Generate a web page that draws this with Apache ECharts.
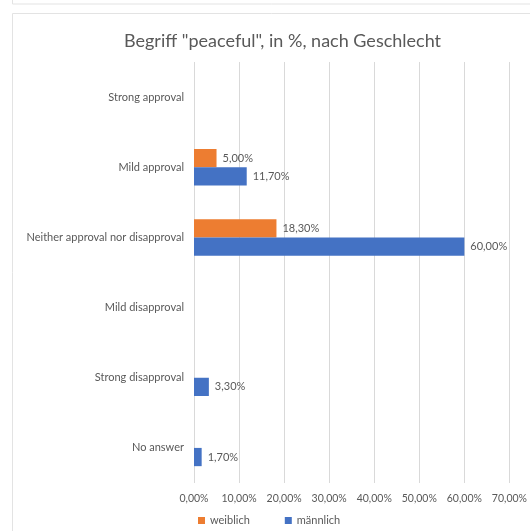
<!DOCTYPE html>
<html><head><meta charset="utf-8">
<script src="https://cdn.jsdelivr.net/npm/echarts@6/dist/echarts.min.js"></script>
<style>html,body{margin:0;padding:0;background:#fff}#c{width:530px;height:531px}</style>
</head><body><div id="c"></div>
<script>
const categories = ["Strong approval","Mild approval","Neither approval nor disapproval","Mild disapproval","Strong disapproval","No answer"];
const weiblich = [null, 5.0, 18.3, null, null, null];
const maennlich = [null, 11.7, 60.0, null, 3.3, 1.7];
const xTicks = [0,10,20,30,40,50,60,70];
const titleText = 'Begriff "peaceful", in %, nach Geschlecht';
const seriesNames = ["weiblich","männlich"];

const fmt = v => v.toFixed(2).replace('.', ',') + '%';
const font = 'Lato, "Open Sans", sans-serif';
const txt = '#595959';
const chart = echarts.init(document.getElementById('c'));
chart.setOption({
  animation:false,
  textStyle:{fontFamily:font},
  title:{text:titleText,left:119,top:27,textStyle:{fontFamily:font,fontSize:18,fontWeight:'normal',color:txt}},
  graphic:[
    {type:'rect',shape:{x:12.5,y:-10,width:540,height:14},style:{fill:'none',stroke:'#e3e3e3',lineWidth:1}},
    {type:'rect',shape:{x:12.5,y:13.5,width:540,height:540},style:{fill:'none',stroke:'#e3e3e3',lineWidth:1}}
  ],
  legend:{data:seriesNames,bottom:0,left:193,itemWidth:7,itemHeight:7,itemGap:35,icon:'rect',textStyle:{fontFamily:font,fontSize:11,color:txt}},
  grid:{left:194,right:20,top:62,bottom:48,containLabel:false},
  xAxis:{type:'value',min:xTicks[0],max:xTicks[xTicks.length-1],interval:10,
    axisLine:{show:false},axisTick:{show:false},
    axisLabel:{formatter:v=>fmt(v),color:txt,fontSize:10.5,margin:10,fontFamily:font},
    splitLine:{lineStyle:{color:'#d9d9d9'}}},
  yAxis:{type:'category',data:categories,inverse:true,
    axisLine:{show:false},axisTick:{show:false},
    axisLabel:{color:txt,fontSize:11,margin:10,fontFamily:font}},
  series:[
    {name:seriesNames[0],type:'bar',data:weiblich,itemStyle:{color:'#ED7D31'},barGap:'0%',barCategoryGap:'48%',
     label:{show:true,position:'right',distance:6,color:txt,fontSize:11,fontFamily:font,formatter:p=>fmt(p.value)}},
    {name:seriesNames[1],type:'bar',data:maennlich,itemStyle:{color:'#4472C4'},barGap:'0%',barCategoryGap:'48%',
     label:{show:true,position:'right',distance:6,color:txt,fontSize:11,fontFamily:font,formatter:p=>fmt(p.value)}}
  ]
});
</script></body></html>
